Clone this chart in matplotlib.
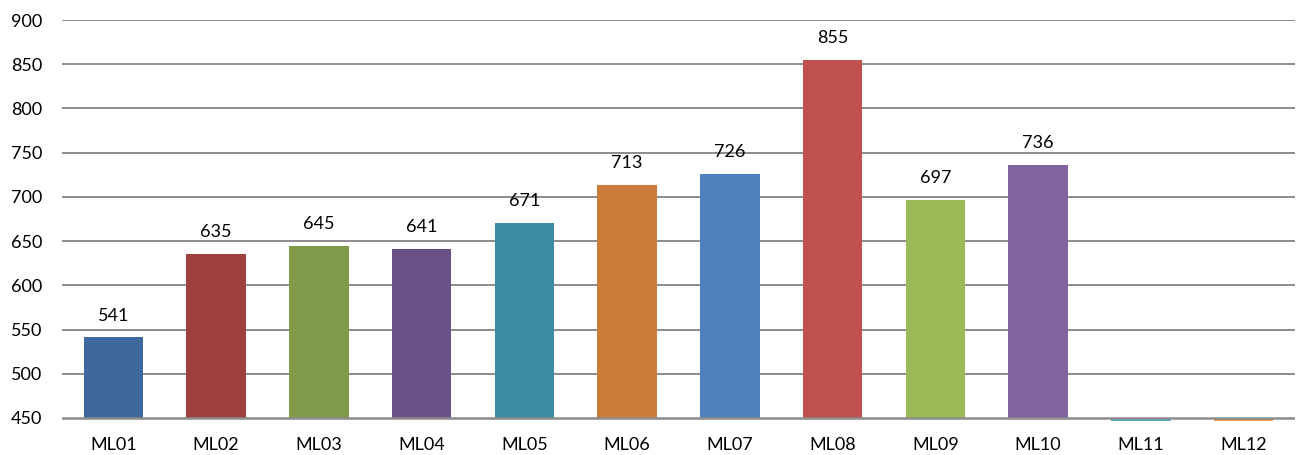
import matplotlib
matplotlib.use("Agg")
import matplotlib.pyplot as plt

# ======================
# DATA
# ======================
categories = ["ML01", "ML02", "ML03", "ML04", "ML05", "ML06",
              "ML07", "ML08", "ML09", "ML10", "ML11", "ML12"]
values = [541, 635, 645, 641, 671, 713, 726, 855, 697, 736, 0, 0]
show_label = [True] * 10 + [False, False]
colors = ["#3F699C", "#9E413E", "#7F9A48", "#695185", "#3C8DA3", "#CC7B38",
          "#4F81BD", "#C0504D", "#9BBB59", "#8064A2", "#4BACC6", "#F79646"]
yticks = [450, 500, 550, 600, 650, 700, 750, 800, 850, 900]
axis_min = 450


def main():
    plt.rcParams["font.family"] = ["Lato", "DejaVu Sans"]

    fig = plt.figure(figsize=(13.03, 4.55), dpi=100)
    ax = fig.add_axes([62 / 1303, 1 - 420.6 / 455, 1233 / 1303, (420.6 - 20) / 455])

    # horizontal gridlines
    for t in yticks[1:]:
        ax.axhline(t, color="#8C8C8C", linewidth=1.4, zorder=0)

    # bars start at the axis crossing, like Excel does
    x = list(range(len(categories)))
    heights = [v - axis_min for v in values]
    bars = ax.bar(x, heights, bottom=axis_min, width=0.58, color=colors, zorder=2)

    ax.axhline(axis_min, color="#8C8C8C", linewidth=1.8, zorder=3)

    for b, v, s in zip(bars, values, show_label):
        if s:
            ax.annotate(str(v), (b.get_x() + b.get_width() / 2, v),
                        xytext=(0, 10), textcoords="offset points",
                        ha="center", va="bottom", fontsize=13, color="#000000")

    ax.set_xlim(-0.5, len(categories) - 0.5)
    ax.set_ylim(447, 900)
    ax.set_xticks(x)
    ax.set_xticklabels(categories)
    ax.set_yticks(yticks)
    ax.tick_params(axis="both", length=0, labelsize=13, colors="#000000")
    ax.tick_params(axis="x", pad=12)
    ax.tick_params(axis="y", pad=14)
    for sp in ax.spines.values():
        sp.set_visible(False)

    fig.savefig("out.png", dpi=100)
    plt.close(fig)


if __name__ == "__main__":
    main()
